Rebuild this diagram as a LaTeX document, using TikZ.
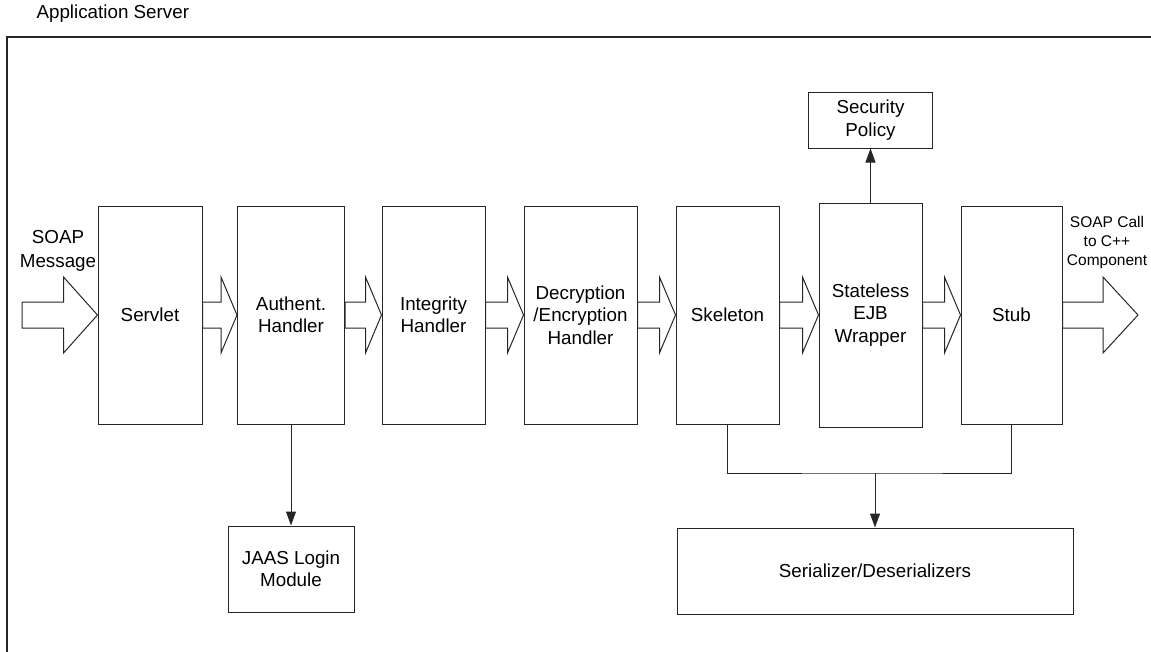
\documentclass[tikz,border=0pt]{standalone}
\usepackage{fontspec}
\setmainfont{Liberation Sans}
\usetikzlibrary{calc,arrows.meta}
\definecolor{lineblack}{rgb}{0.15, 0.15, 0.15}
\tikzset{
  box/.style = {draw = lineblack, line width = 1pt, align = center, inner sep = 0pt,
                minimum height = 218pt, font = \fontsize{18.8}{22.5}\selectfont},
  fat/.style = {draw = lineblack, line width = 1pt, line join = miter},
  link/.style = {draw = lineblack, line width = 1pt, -{Triangle[width = 10pt, length = 14pt]}},
}
% block arrow: start, tip, head length
\newcommand{\fatarrow}[3]{%
  \path[fat] ($(#1)+(0,13)$) -- ($(#2)+(-#3,13)$) -- ($(#2)+(-#3,38)$) -- (#2)
    -- ($(#2)+(-#3,-38)$) -- ($(#2)+(-#3,-13)$) -- ($(#1)+(0,-13)$) -- cycle;}

\begin{document}
\begin{tikzpicture}[x = 1pt, y = -1pt]
        \useasboundingbox (0, 0) rectangle (1151, 651);
        \draw[line width = 1.2pt, lineblack] (7, 660) -- (7, 37) -- (1160, 37);
        \node[anchor = west, font = \fontsize{18.8}{22.5}\selectfont] (title) at (33, 14) {Application Server};
        % pipeline
        \node[box, minimum width = 104pt] (servlet) at (150, 315) {Servlet};
        \node[box, minimum width = 107pt] (authent) at (291, 315) {Authent.\\Handler};
        \node[box, minimum width = 103pt] (integrity) at (433.5, 315) {Integrity\\Handler};
        \node[box, minimum width = 113pt] (crypt) at (580.5, 315) {Decryption\\/Encryption\\Handler};
        \node[box, minimum width = 103pt] (skeleton) at (727.5, 315) {Skeleton};
        \node[box, minimum width = 103pt, minimum height = 224pt] (wrapper) at (870.5, 315) {Stateless\\EJB\\Wrapper};
        \node[box, minimum width = 101pt] (stub) at (1011.5, 315) {Stub};
        % side modules
        \node[box, minimum width = 124pt, minimum height = 56pt] (policy) at (870.5, 120) {Security\\Policy};
        \node[box, minimum width = 126pt, minimum height = 86pt] (jaas) at (291, 569) {JAAS Login\\Module};
        \node[box, minimum width = 396pt, minimum height = 86pt] (serial) at (875, 571) {Serializer/Deserializers};
        % message labels
        \node[align = center, font = \fontsize{18.8}{23.5}\selectfont] (inlabel) at (58, 251) {SOAP\\Message};
        \node[align = center, font = \fontsize{15.5}{19}\selectfont] (outlabel) at (1107, 242) {SOAP Call\\to C++\\Component};
        \coordinate (in) at (22, 315);
        \coordinate (out) at (1138, 315);
        \fatarrow{in}{servlet.west}{34}
        \fatarrow{servlet.east}{authent.west}{16}
        \fatarrow{authent.east}{integrity.west}{16}
        \fatarrow{integrity.east}{crypt.west}{16}
        \fatarrow{crypt.east}{skeleton.west}{16}
        \fatarrow{skeleton.east}{wrapper.west}{16}
        \fatarrow{wrapper.east}{stub.west}{16}
        \fatarrow{stub.east}{out}{35}
        % calls
        \draw[link] (authent.south) -- (jaas.north);
        \draw[link] (wrapper.north) -- (policy.south);
        \coordinate (bus) at (875, 473);
        \draw[line width = 1pt, lineblack] (skeleton.south) |- (bus) -| (stub.south);
        \draw[link] (bus) -- (serial.north);
      \end{tikzpicture}
\end{document}
